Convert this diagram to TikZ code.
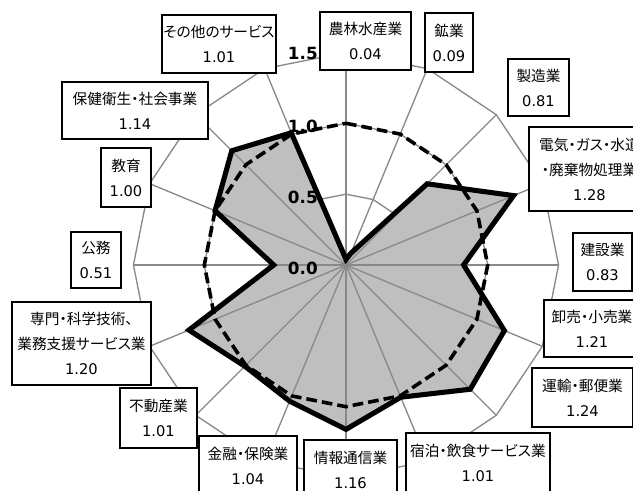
\documentclass[tikz,border=0pt]{standalone}
\usepackage{fontspec}
\newfontfamily\jpf[RawFeature=+palt]{Noto Sans CJK JP}
\newfontfamily\numf{DejaVu Sans}
\definecolor{gridc}{HTML}{898989}
\definecolor{fillc}{HTML}{BFBFBF}
\newcommand\nm[1]{{\numf #1}}
\tikzset{
  gridln/.style={draw=gridc, line width=1pt},
  lbox/.style={draw=black, line width=1pt, fill=white, align=center, inner sep=0pt,
    font=\jpf\fontsize{11}{18.75}\selectfont},
  bx/.style 2 args={minimum width=#1*0.75pt, minimum height=#2*0.75pt},
  axl/.style={font=\numf\bfseries\fontsize{12.6}{14}\selectfont, inner sep=0pt, anchor=east},
  serborder/.style={draw=black, line width=3.8pt, line join=miter, miter limit=6},
  refline/.style={draw=black, line width=2.7pt, dash pattern=on 8pt off 3.8pt},
}
\begin{document}
\begin{tikzpicture}[x=0.75pt,y=-0.75pt]
\useasboundingbox (0,0) rectangle (633,491);
\clip (0,0) rectangle (633,491);
\def\U{141.7}
\begin{scope}[shift={(346,265)}]
  \coordinate (c) at (0,0);
  \foreach \k in {0,...,15} {
    \coordinate (o\k) at ({\k*22.5-90}:{1.5*\U});
    \coordinate (m\k) at ({\k*22.5-90}:{1.0*\U});
    \coordinate (h\k) at ({\k*22.5-90}:{0.5*\U});
  }
  \foreach \v [count=\i from 0] in {0.04,0.09,0.81,1.28,0.83,1.21,1.24,1.01,1.16,1.04,1.01,1.20,0.51,1.00,1.14,1.01} {
    \coordinate (d\i) at ({\i*22.5-90}:{\v*\U});
  }
  % rings
  \draw[gridln] (o0)--(o1)--(o2)--(o3)--(o4)--(o5)--(o6)--(o7)--(o8)--(o9)--(o10)--(o11)--(o12)--(o13)--(o14)--(o15)--cycle;
  \draw[gridln] (m0)--(m1)--(m2)--(m3)--(m4)--(m5)--(m6)--(m7)--(m8)--(m9)--(m10)--(m11)--(m12)--(m13)--(m14)--(m15)--cycle;
  \draw[gridln] (h0)--(h1)--(h2)--(h3)--(h4)--(h5)--(h6)--(h7)--(h8)--(h9)--(h10)--(h11)--(h12)--(h13)--(h14)--(h15)--cycle;
  % series fill
  \fill[fillc] (d0)--(d1)--(d2)--(d3)--(d4)--(d5)--(d6)--(d7)--(d8)--(d9)--(d10)--(d11)--(d12)--(d13)--(d14)--(d15)--cycle;
  % radial axes
  \foreach \k in {0,...,15} { \draw[gridln] (c) -- (o\k); }
\end{scope}
% axis labels
\node[axl] (t00) at (318,268) {0.0};
\node[axl] (t05) at (318,197) {0.5};
\node[axl] (t10) at (318,126) {1.0};
\node[axl] (t15) at (318,54) {1.5};
% series border and reference line
\draw[serborder] (d0)--(d1)--(d2)--(d3)--(d4)--(d5)--(d6)--(d7)--(d8)--(d9)--(d10)--(d11)--(d12)--(d13)--(d14)--(d15)--cycle;
\draw[refline] (m0)--(m1)--(m2)--(m3)--(m4)--(m5)--(m6)--(m7)--(m8)--(m9)--(m10)--(m11)--(m12)--(m13)--(m14)--(m15)--cycle;
% label boxes
\node[lbox, bx={114}{58}] (n15) at (219,44) {その他のサービス\\\nm{1.01}};
\node[lbox, bx={91}{58}] (n0) at (365.5,41) {農林水産業\\\nm{0.04}};
\node[lbox, bx={48}{59}] (n1) at (449,42.5) {鉱業\\\nm{0.09}};
\node[lbox, bx={61}{57}] (n2) at (538.5,87.5) {製造業\\\nm{0.81}};
\node[lbox, bx={121}{84}] (n3) at (589.5,169) {電気・ガス・水道\\・廃棄物処理業\\\nm{1.28}};
\node[lbox, bx={59}{58}] (n4) at (602.5,262) {建設業\\\nm{0.83}};
\node[lbox, bx={96}{57}] (n5) at (592,328.5) {卸売・小売業\\\nm{1.21}};
\node[lbox, bx={101}{59}] (n6) at (582.5,397.5) {運輸・郵便業\\\nm{1.24}};
\node[lbox, bx={144}{60}] (n7) at (478,463) {宿泊・飲食サービス業\\\nm{1.01}};
\node[lbox, bx={93}{60}] (n8) at (350.5,470) {情報通信業\\\nm{1.16}};
\node[lbox, bx={98}{60}] (n9) at (248,466) {金融・保険業\\\nm{1.04}};
\node[lbox, bx={77}{60}] (n10) at (158.5,418) {不動産業\\\nm{1.01}};
\node[lbox, bx={139}{83}] (n11) at (81.5,343.5) {専門・科学技術、\\業務支援サービス業\\\nm{1.20}};
\node[lbox, bx={50}{56}] (n12) at (96,260) {公務\\\nm{0.51}};
\node[lbox, bx={50}{59}] (n13) at (126,177.5) {教育\\\nm{1.00}};
\node[lbox, bx={146}{57}] (n14) at (135,110.5) {保健衛生・社会事業\\\nm{1.14}};
\end{tikzpicture}
\end{document}
